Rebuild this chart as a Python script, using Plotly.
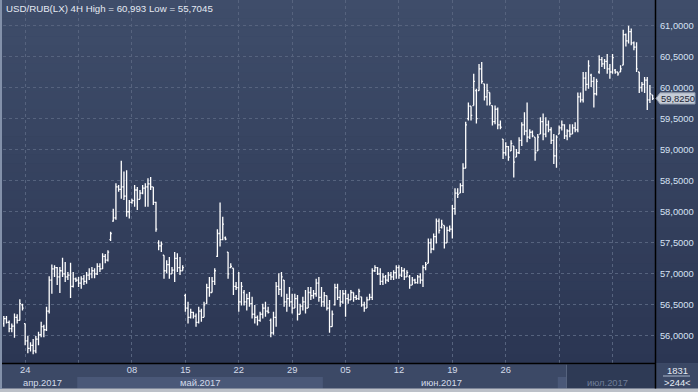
import plotly.graph_objects as go

# ---------------- data ----------------
opens = [
    56.20, 56.28, 56.22, 56.12, 56.16, 56.30, 56.25, 56.50, 56.20, 55.92,
    55.80, 55.85, 55.76, 55.95, 56.02, 56.15, 56.10, 56.40, 56.90, 57.08,
    57.10, 56.95, 57.05, 57.00, 56.95, 56.98, 56.80, 56.92, 56.90, 56.85,
    56.92, 56.88, 56.98, 57.00, 57.05, 57.00, 57.12, 57.08, 57.28, 57.22,
    57.55, 57.85, 57.90, 58.40, 58.36, 58.40, 58.25, 58.00, 58.15, 58.18,
    58.35, 58.20, 58.30, 58.38, 58.40, 58.45, 58.40, 58.15, 57.50, 57.45,
    57.30, 57.05, 57.15, 57.00, 57.06, 57.25, 57.10, 57.05, 56.65, 56.45,
    56.30, 56.38, 56.32, 56.22, 56.40, 56.30, 56.52, 56.78, 56.70, 56.88,
    57.28, 57.65, 57.55, 57.58, 57.35, 57.10, 57.09, 56.80, 56.78, 56.55,
    56.70, 56.55, 56.60, 56.52, 56.35, 56.30, 56.25, 56.35, 56.45, 56.40,
    56.25, 56.05, 56.30, 56.80, 56.75, 56.90, 56.55, 56.60, 56.55, 56.45,
    56.60, 56.35, 56.48, 56.55, 56.45, 56.70, 56.65, 56.68, 56.85, 56.62,
    56.55, 56.65, 56.45, 56.15, 56.50, 56.78, 56.62, 56.55, 56.68, 56.60,
    56.58, 56.70, 56.62, 56.60, 56.63, 56.50, 56.45, 56.58, 56.62, 57.05,
    57.10, 57.00, 56.88, 56.95, 56.90, 56.98, 56.95, 57.02, 57.10, 56.98,
    57.05, 56.95, 56.95, 56.82, 56.90, 56.86, 56.95, 56.90, 57.10, 57.17,
    57.50, 57.40, 57.60, 57.85, 57.75, 57.78, 57.50, 57.70, 57.72, 58.05,
    58.30, 58.30, 58.42, 58.70, 59.50, 59.70, 59.71, 59.95, 59.95, 60.30,
    60.06, 59.85, 59.92, 59.71, 59.45, 59.65, 59.40, 59.17, 58.95, 59.05,
    58.98, 59.06, 58.88, 58.95, 59.15, 59.40, 59.30, 59.20, 59.28, 59.20,
    58.98, 59.25, 59.45, 59.25, 59.40, 59.32, 59.15, 58.90, 59.25, 59.35,
    59.40, 59.22, 59.30, 59.25, 59.35, 59.32, 59.85, 59.80, 60.15, 60.05,
    60.20, 60.10, 59.90, 60.25, 60.45, 60.38, 60.42, 60.30, 60.25, 60.28,
    60.25, 60.25, 60.36, 60.85, 60.75, 60.90, 60.72, 60.65, 60.25, 60.00,
    60.05, 60.12, 59.80, 59.88,
]
highs = [
    56.32, 56.32, 56.25, 56.20, 56.36, 56.35, 56.59, 56.52, 56.20, 56.00,
    55.90, 55.95, 56.00, 56.07, 56.23, 56.18, 56.47, 56.96, 57.15, 57.14,
    57.11, 57.11, 57.26, 57.19, 57.03, 57.18, 57.03, 56.94, 56.95, 56.96,
    56.98, 57.03, 57.09, 57.11, 57.09, 57.17, 57.17, 57.33, 57.32, 57.38,
    57.68, 58.05, 58.46, 58.43, 58.82, 58.65, 58.67, 58.19, 58.21, 58.43,
    58.40, 58.35, 58.43, 58.46, 58.54, 58.56, 58.40, 58.16, 57.54, 57.52,
    57.30, 57.22, 57.27, 57.11, 57.35, 57.33, 57.27, 57.14, 56.68, 56.55,
    56.44, 56.39, 56.36, 56.47, 56.44, 56.55, 56.84, 56.95, 56.95, 57.09,
    57.72, 58.15, 57.92, 57.60, 57.35, 57.17, 57.09, 56.87, 57.03, 56.87,
    56.74, 56.68, 56.71, 56.63, 56.50, 56.33, 56.39, 56.52, 56.55, 56.47,
    56.28, 56.39, 56.87, 57.01, 57.03, 56.90, 56.68, 56.79, 56.68, 56.68,
    56.66, 56.52, 56.63, 56.74, 56.79, 56.79, 56.74, 56.92, 56.95, 56.79,
    56.71, 56.65, 56.58, 56.41, 56.84, 56.84, 56.74, 56.74, 56.74, 56.68,
    56.74, 56.70, 56.66, 56.76, 56.63, 56.55, 56.63, 56.68, 57.09, 57.14,
    57.11, 57.09, 57.01, 56.98, 57.03, 57.03, 57.06, 57.14, 57.14, 57.11,
    57.09, 57.06, 56.98, 56.95, 56.92, 56.98, 57.01, 57.14, 57.19, 57.57,
    57.57, 57.65, 57.89, 57.89, 57.87, 57.78, 57.76, 57.78, 58.11, 58.38,
    58.38, 58.46, 58.78, 59.45, 59.76, 59.70, 60.22, 59.98, 60.38, 60.41,
    60.06, 60.06, 59.92, 59.71, 59.71, 59.68, 59.47, 59.17, 59.12, 59.06,
    59.15, 59.06, 59.01, 59.20, 59.44, 59.60, 59.76, 59.33, 59.31, 59.20,
    59.25, 59.52, 59.58, 59.52, 59.47, 59.36, 59.25, 59.23, 59.39, 59.47,
    59.41, 59.33, 59.41, 59.41, 59.44, 59.92, 59.92, 60.25, 60.25, 60.44,
    60.22, 60.17, 60.14, 60.52, 60.49, 60.46, 60.54, 60.38, 60.54, 60.30,
    60.25, 60.36, 60.93, 60.87, 60.993, 60.95, 60.74, 60.73, 60.25, 60.09,
    60.17, 60.17, 60.04, 59.88,
]
lows = [
    56.15, 56.20, 56.06, 56.06, 55.97, 56.20, 56.25, 56.41, 55.85, 55.72,
    55.75, 55.7045, 55.72, 55.85, 55.98, 55.98, 56.08, 56.36, 56.68, 56.95,
    56.82, 56.69, 56.95, 56.87, 56.90, 56.61, 56.78, 56.87, 56.79, 56.76,
    56.82, 56.84, 56.90, 56.93, 56.93, 56.98, 57.03, 57.08, 57.17, 57.20,
    57.53, 57.84, 57.87, 58.32, 58.21, 58.19, 57.92, 57.89, 58.13, 58.08,
    58.03, 58.20, 58.28, 58.08, 58.08, 58.35, 58.11, 57.68, 57.38, 57.35,
    56.92, 57.01, 56.92, 57.00, 56.87, 57.03, 56.98, 57.05, 56.39, 56.20,
    56.28, 56.28, 56.15, 56.20, 56.23, 56.30, 56.52, 56.63, 56.70, 56.82,
    57.27, 57.44, 57.54, 57.54, 56.92, 57.09, 56.66, 56.74, 56.39, 56.49,
    56.49, 56.41, 56.47, 56.28, 56.20, 56.17, 56.23, 56.28, 56.31, 56.36,
    55.98, 56.02, 56.15, 56.66, 56.63, 56.47, 56.39, 56.47, 56.36, 56.45,
    56.25, 56.35, 56.41, 56.36, 56.45, 56.58, 56.60, 56.63, 56.55, 56.47,
    56.47, 56.41, 56.05, 56.15, 56.49, 56.58, 56.47, 56.52, 56.31, 56.52,
    56.58, 56.55, 56.58, 56.58, 56.47, 56.39, 56.45, 56.58, 56.58, 57.03,
    56.98, 56.82, 56.82, 56.84, 56.87, 56.90, 56.90, 56.92, 56.92, 56.95,
    56.90, 56.95, 56.76, 56.82, 56.84, 56.84, 56.84, 56.79, 57.06, 57.17,
    57.33, 57.38, 57.49, 57.65, 57.73, 57.41, 57.50, 57.68, 57.57, 57.95,
    58.22, 58.30, 58.30, 58.70, 59.47, 59.47, 59.71, 59.42, 59.95, 60.06,
    59.79, 59.71, 59.71, 59.39, 59.41, 59.33, 59.33, 58.85, 58.90, 58.82,
    58.98, 58.55, 58.88, 58.93, 59.06, 59.23, 59.12, 59.17, 59.20, 58.82,
    58.98, 59.25, 59.15, 59.20, 59.28, 59.09, 58.77, 58.71, 59.25, 59.31,
    59.17, 59.15, 59.20, 59.25, 59.28, 59.28, 59.76, 59.76, 59.95, 59.98,
    60.01, 59.68, 59.87, 60.22, 60.33, 60.30, 60.22, 60.14, 60.22, 60.22,
    60.19, 60.25, 60.36, 60.66, 60.71, 60.68, 60.60, 60.25, 59.91, 59.93,
    59.91, 59.64, 59.75, 59.80,
]
closes = [
    56.28, 56.22, 56.12, 56.16, 56.30, 56.25, 56.52, 56.45, 55.92, 55.80,
    55.85, 55.76, 55.95, 56.02, 56.15, 56.10, 56.40, 56.90, 57.08, 57.10,
    56.95, 57.05, 57.00, 56.95, 56.98, 56.80, 56.92, 56.90, 56.85, 56.92,
    56.88, 56.98, 57.00, 57.05, 57.00, 57.12, 57.08, 57.28, 57.22, 57.35,
    57.65, 57.90, 58.40, 58.36, 58.40, 58.25, 58.00, 58.15, 58.18, 58.35,
    58.20, 58.30, 58.38, 58.40, 58.45, 58.40, 58.15, 57.72, 57.45, 57.48,
    57.05, 57.15, 57.00, 57.06, 57.25, 57.10, 57.05, 57.10, 56.45, 56.30,
    56.38, 56.32, 56.22, 56.40, 56.30, 56.50, 56.78, 56.70, 56.88, 57.05,
    57.65, 57.55, 57.80, 57.56, 57.00, 57.12, 56.80, 56.78, 56.55, 56.80,
    56.55, 56.60, 56.52, 56.35, 56.30, 56.25, 56.35, 56.45, 56.40, 56.38,
    56.05, 56.30, 56.80, 56.75, 56.95, 56.55, 56.60, 56.55, 56.45, 56.60,
    56.35, 56.48, 56.55, 56.45, 56.70, 56.65, 56.68, 56.85, 56.62, 56.55,
    56.65, 56.45, 56.15, 56.35, 56.78, 56.62, 56.55, 56.68, 56.60, 56.58,
    56.70, 56.62, 56.60, 56.72, 56.50, 56.45, 56.58, 56.62, 57.05, 57.10,
    57.00, 56.88, 56.95, 56.90, 56.98, 56.95, 57.02, 57.10, 56.98, 57.05,
    56.95, 57.02, 56.82, 56.90, 56.86, 56.95, 56.90, 57.10, 57.15, 57.50,
    57.40, 57.60, 57.85, 57.70, 57.80, 57.50, 57.70, 57.72, 58.05, 58.30,
    58.28, 58.42, 58.70, 59.40, 59.70, 59.55, 60.10, 59.50, 60.30, 60.10,
    59.85, 59.95, 59.75, 59.45, 59.65, 59.40, 59.36, 58.95, 59.05, 58.88,
    59.10, 58.80, 58.95, 59.15, 59.40, 59.30, 59.20, 59.28, 59.22, 58.95,
    59.20, 59.45, 59.25, 59.40, 59.32, 59.15, 58.90, 59.20, 59.35, 59.40,
    59.22, 59.30, 59.25, 59.35, 59.32, 59.85, 59.80, 60.15, 60.05, 60.35,
    60.10, 59.90, 60.10, 60.45, 60.38, 60.42, 60.30, 60.25, 60.48, 60.25,
    60.22, 60.30, 60.85, 60.75, 60.90, 60.72, 60.65, 60.30, 60.00, 60.05,
    60.12, 59.80, 59.90, 59.825,
]
bar_index = list(range(len(opens)))

day_tick_idx = [8, 28, 48, 68, 88, 108, 128, 148, 168, 188, 208, 228]
day_tick_text = ["24", "", "08", "15", "22", "29", "05", "12", "19", "26", "", "10"]
month_labels = ["апр.2017", "май.2017", "июн.2017", "июл.2017"]
month_label_idx = [14.5, 73.5, 164.0, 226.0]
month_bounds = [-1.0, 27.5, 119.5, 207.5, 246.0]
y_tick_vals = [56.0, 56.5, 57.0, 57.5, 58.0, 58.5, 59.0, 59.5, 60.0, 60.5, 61.0]
y_tick_text = ["56,0000", "56,5000", "57,0000", "57,5000", "58,0000", "58,5000",
               "59,0000", "59,5000", "60,0000", "60,5000", "61,0000"]
last_price = 59.825
last_price_text = "59,8250"
title_text = "USD/RUB(LX) 4H High = 60,993 Low = 55,7045"
total_bars_text = "1831"
visible_bars_text = "&gt;244&lt;"

# ---------------- layout geometry ----------------
W, H = 698, 392
ML, MR, MT, MB = 3, 43, 0, 29
PW, PH = W - ML - MR, H - MT - MB
FONT = "Liberation Sans"
FS = 9.4


def px_x(px):
    return (px - ML) / PW


def px_y(py):
    return 1 - (py - MT) / PH


fig = go.Figure()
fig.add_trace(go.Ohlc(
    x=bar_index, open=opens, high=highs, low=lows, close=closes,
    increasing=dict(line=dict(color="#ffffff", width=1.3)),
    decreasing=dict(line=dict(color="#ffffff", width=1.3)),
    tickwidth=0.45, hoverinfo="skip", showlegend=False,
))

shapes = []
# vertical gradient background (plot + right axis panel)
top_c = (63, 77, 106)
bot_c = (43, 54, 83)
n = 40
for i in range(n):
    t = i / (n - 1)
    c = tuple(round(top_c[j] + (bot_c[j] - top_c[j]) * t) for j in range(3))
    shapes.append(dict(type="rect", xref="paper", yref="paper", layer="below",
                       x0=px_x(0), x1=px_x(W), y0=px_y(i * 363 / n), y1=px_y((i + 1) * 363 / n + 0.5),
                       fillcolor="rgb(%d,%d,%d)" % c, line=dict(width=0)))
# bottom strip
shapes.append(dict(type="rect", xref="paper", yref="paper", layer="below",
                   x0=px_x(0), x1=px_x(W), y0=px_y(363), y1=px_y(H),
                   fillcolor="#3c4966", line=dict(width=0)))
# lighter month bands (May, July)
for mi in (1, 3):
    shapes.append(dict(type="rect", xref="x", yref="paper", layer="below",
                       x0=month_bounds[mi], x1=month_bounds[mi + 1], y0=px_y(377), y1=px_y(388.5),
                       fillcolor="#4a5878", line=dict(width=0)))
# dark overlay at right of the date strip
shapes.append(dict(type="rect", xref="paper", yref="paper", layer="above",
                   x0=px_x(566), x1=px_x(655), y0=px_y(364.5), y1=px_y(388.5),
                   fillcolor="#2e3a55", line=dict(width=0)))
shapes.append(dict(type="line", xref="paper", yref="paper", layer="above",
                   x0=px_x(566.5), x1=px_x(566.5), y0=px_y(364.5), y1=px_y(388.5),
                   line=dict(color="#56637e", width=1)))
# right bottom panel
shapes.append(dict(type="rect", xref="paper", yref="paper", layer="above",
                   x0=px_x(656), x1=px_x(W), y0=px_y(364), y1=px_y(388.5),
                   fillcolor="#3b4865", line=dict(width=0)))
shapes.append(dict(type="line", xref="paper", yref="paper", layer="above",
                   x0=px_x(663), x1=px_x(690), y0=px_y(376), y1=px_y(376),
                   line=dict(color="#aab6cc", width=1)))
# light borders
shapes.append(dict(type="rect", xref="paper", yref="paper", layer="above",
                   x0=px_x(0), x1=px_x(W), y0=px_y(388.5), y1=px_y(H),
                   fillcolor="#bcc0c8", line=dict(width=0)))
shapes.append(dict(type="rect", xref="paper", yref="paper", layer="above",
                   x0=px_x(0), x1=px_x(2), y0=px_y(0), y1=px_y(389),
                   fillcolor="#8391aa", line=dict(width=0)))
# black frame lines
shapes.append(dict(type="line", xref="paper", yref="paper", layer="above",
                   x0=px_x(2), x1=px_x(655.5), y0=px_y(363.5), y1=px_y(363.5),
                   line=dict(color="#000000", width=1.5)))
shapes.append(dict(type="line", xref="paper", yref="paper", layer="above",
                   x0=px_x(655.5), x1=px_x(655.5), y0=px_y(0), y1=px_y(388.5),
                   line=dict(color="#000000", width=1.5)))
# last-price tag
dy = 5.6 * (61.409 - 55.565) / PH
path = "M %f,%f L %f,%f L %f,%f L %f,%f L %f,%f Z" % (
    px_x(656), last_price,
    px_x(660), last_price + dy,
    px_x(695), last_price + dy,
    px_x(695), last_price - dy,
    px_x(660), last_price - dy)
shapes.append(dict(type="path", xref="paper", yref="y", layer="above", path=path,
                   fillcolor="#c6cdd8", line=dict(color="#8e98aa", width=1)))

annotations = []
annotations.append(dict(text=title_text, xref="paper", yref="paper", x=px_x(4), y=px_y(8.5),
                        xanchor="left", yanchor="middle", showarrow=False,
                        font=dict(family=FONT, size=FS + 0.3, color="#e4e9f2")))
month_colors = ["#d3dbea", "#d3dbea", "#d3dbea", "#6f7d98"]
for lab, xi, col in zip(month_labels, month_label_idx, month_colors):
    annotations.append(dict(text=lab, xref="x", yref="paper", x=xi, y=px_y(382.5),
                            xanchor="center", yanchor="middle", showarrow=False,
                            font=dict(family=FONT, size=FS, color=col)))
annotations.append(dict(text=last_price_text, xref="paper", yref="y", x=px_x(677.5), y=last_price,
                        xanchor="center", yanchor="middle", showarrow=False,
                        font=dict(family=FONT, size=FS, color="#1c2535")))
annotations.append(dict(text=total_bars_text, xref="paper", yref="paper", x=px_x(677), y=px_y(370.5),
                        xanchor="center", yanchor="middle", showarrow=False,
                        font=dict(family=FONT, size=FS, color="#e6ecf5")))
annotations.append(dict(text=visible_bars_text, xref="paper", yref="paper", x=px_x(677), y=px_y(382.5),
                        xanchor="center", yanchor="middle", showarrow=False,
                        font=dict(family=FONT, size=FS, color="#e6ecf5")))

tick_text_styled = [t if i != len(day_tick_text) - 1 else "<span style='color:#6f7d98'>%s</span>" % t
                    for i, t in enumerate(day_tick_text)]

fig.update_layout(
    width=W, height=H,
    margin=dict(l=ML, r=MR, t=MT, b=MB, pad=0),
    paper_bgcolor="#2e3a56",
    plot_bgcolor="rgba(0,0,0,0)",
    showlegend=False,
    shapes=shapes,
    annotations=annotations,
    xaxis=dict(
        range=[-0.3, 243.9], rangeslider=dict(visible=False),
        tickmode="array", tickvals=day_tick_idx, ticktext=tick_text_styled,
        showgrid=True, gridcolor="#56637e", griddash="3px,3px", gridwidth=1,
        zeroline=False, showline=False, ticks="",
        tickfont=dict(family=FONT, size=FS, color="#d3dbea"),
        fixedrange=True,
    ),
    yaxis=dict(
        range=[55.565, 61.409], side="right",
        tickmode="array", tickvals=y_tick_vals, ticktext=y_tick_text,
        showgrid=True, gridcolor="#56637e", griddash="3px,3px", gridwidth=1,
        zeroline=False, showline=False,
        ticks="outside", ticklen=2, tickcolor="rgba(0,0,0,0)",
        tickfont=dict(family=FONT, size=FS, color="#d6e1f4"),
        fixedrange=True,
    ),
)

fig.write_html("out.html", config={"displayModeBar": False})
